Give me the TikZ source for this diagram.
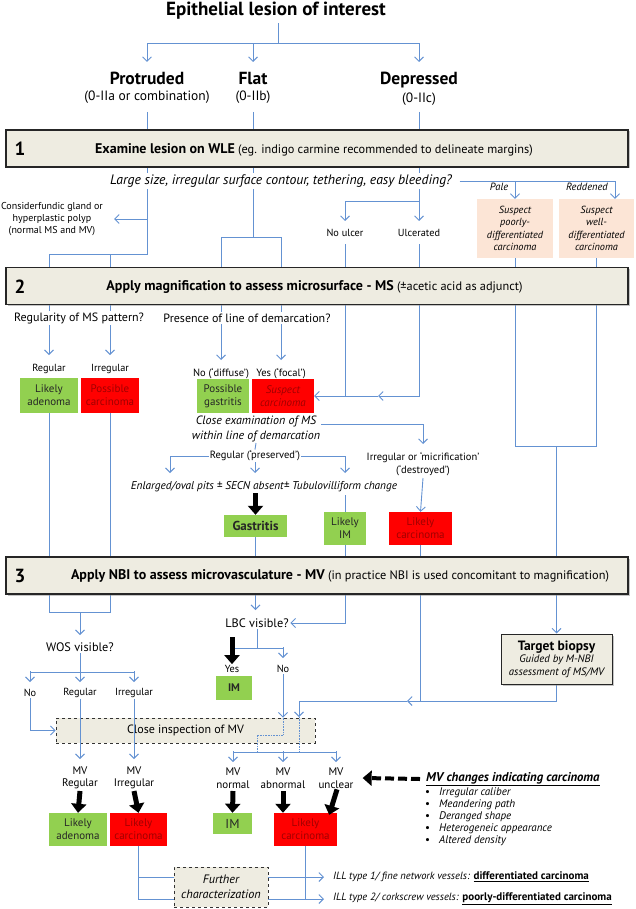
\documentclass[tikz,border=0pt]{standalone}
\usepackage{fontspec}
\setmainfont{PT Sans}
\usetikzlibrary{arrows.meta,positioning,shadows}
\pgfdeclarelayer{background}
\pgfsetlayers{background,main}
\definecolor{cline}{RGB}{100,146,210}
\definecolor{tanbg}{RGB}{238,236,225}
\definecolor{leaf}{RGB}{146,208,80}
\definecolor{alarm}{RGB}{255,0,0}
\definecolor{alarmtxt}{RGB}{160,0,0}
\definecolor{peach}{RGB}{252,229,214}
\tikzset{
	stepbox/.style={
		rectangle, draw=black!85, line width=1.1pt, fill=tanbg,
		minimum width=622pt, minimum height=37pt,
		drop shadow={shadow xshift=1.5pt, shadow yshift=-1.5pt, fill=black!45}
	},
	tile/.style={
		rectangle, align=center, inner sep=0pt,
		font=\fontsize{11}{13}\selectfont
	}
}

\begin{document}
\begin{tikzpicture}[x=1pt,y=-1pt]
		\tikzstyle{connect}=[draw=cline, line width=0.9pt]
		\tikzstyle{arr}=[connect, -{Straight Barb[length=4.5pt,width=9pt]}]
		\tikzstyle{fat}=[draw=black, line width=5pt, -{Triangle[length=9pt,width=15pt]}]
		\tikzstyle{dots}=[draw=cline, line width=0.6pt, densely dotted]
		\tikzstyle{lab}=[font=\fontsize{10.3}{12}\selectfont, align=center, inner sep=1pt]
		\tikzstyle{ask}=[font=\fontsize{12}{14}\selectfont, inner sep=1.5pt, fill=white]
		\tikzstyle{kind}=[font=\bfseries\fontsize{17.5}{19}\selectfont]
		\tikzstyle{kindsub}=[font=\fontsize{13.5}{15}\selectfont]
		\tikzstyle{num}=[font=\bfseries\fontsize{19}{21}\selectfont]
		\tikzstyle{head}=[font=\fontsize{12.3}{14}\selectfont]
		\tikzstyle{good}=[tile, fill=leaf, text=black!85]
		\tikzstyle{bad}=[tile, fill=alarm, text=alarmtxt]
		\tikzstyle{soft}=[tile, fill=peach, font=\itshape\fontsize{10.3}{12.3}\selectfont]
		\tikzstyle{dashbox}=[rectangle, draw=black!80, dashed, line width=0.8pt, fill=tanbg, align=center, inner sep=0pt]
		\useasboundingbox (0,0) rectangle (636,909);

		% lesion types
		\node[font=\bfseries\fontsize{19}{21}\selectfont] (lesion) at (276,11) {Epithelial lesion of interest};
		\node[kind] (prot) at (147,78) {Protruded};
		\node[kindsub] (protsub) at (147,97) {(0-IIa or combination)};
		\node[kind] (flat) at (253,78) {Flat};
		\node[kindsub] (flatsub) at (253,97) {(0-IIb)};
		\node[kind] (depr) at (419,80) {Depressed};
		\node[kindsub] (deprsub) at (419,99) {(0-IIc)};

		% step 1
		\node[stepbox] (box1) at (317,148.5) {};
		\node[num] (n1) at (20,149) {1};
		\node[head] (t1) at (314,150) {{\bfseries\fontsize{14}{16}\selectfont Examine lesion on WLE} (eg. indigo carmine recommended to delineate margins)};
		\node[ask, font=\itshape\fontsize{13.7}{16}\selectfont] (q1) at (281,181) {Large size, irregular surface contour, tethering, easy bleeding?};
		\node[lab, font=\fontsize{10}{12}\selectfont] (consider) at (52,219) {Considerfundic gland or\\hyperplastic polyp\\(normal MS and MV)};
		\node[lab] (noulcer) at (345,233) {No ulcer};
		\node[lab] (ulcer) at (419,233) {Ulcerated};
		\node[lab, font=\itshape\fontsize{10.5}{12}\selectfont] (pale) at (499,187) {Pale};
		\node[lab, font=\itshape\fontsize{10.5}{12}\selectfont] (redd) at (587,187) {Reddened};
		\node[soft, minimum width=76pt, minimum height=59pt] (poor) at (515,228.5) {Suspect\\poorly-\\differentiated\\carcinoma};
		\node[soft, minimum width=75pt, minimum height=59pt] (well) at (596.5,228.5) {Suspect\\well-\\differentiated\\carcinoma};

		% step 2
		\node[stepbox] (box2) at (317,286) {};
		\node[num] (n2) at (20,286.5) {2};
		\node[head] (t2) at (314.5,287) {{\bfseries\fontsize{14}{16}\selectfont Apply magnification to assess microsurface - MS} (±acetic acid as adjunct)};
		\node[ask] (regq) at (79,318) {Regularity of MS pattern?};
		\node[ask] (demq) at (247,318) {Presence of line of demarcation?};
		\node[lab] (reg1) at (49,369) {Regular};
		\node[lab] (irr1) at (110,369) {Irregular};
		\node[good, minimum width=58pt, minimum height=35pt] (adeno1) at (49,395.5) {Likely\\adenoma};
		\node[bad, minimum width=58pt, minimum height=35pt] (poss) at (110,395.5) {Possible\\carcinoma};
		\node[lab, font=\fontsize{10.5}{12}\selectfont] (nodiff) at (221,374) {No (‘diffuse’)};
		\node[lab, font=\fontsize{10.5}{12}\selectfont] (yesfoc) at (281,374) {Yes (‘focal’)};
		\node[good, minimum width=52pt, minimum height=34pt] (gastr) at (223,396) {Possible\\gastritis};
		\node[bad, minimum width=62pt, minimum height=34pt, font=\itshape\fontsize{11}{13}\selectfont] (susp) at (283,396) {Suspect\\carcinoma};
		\node[font=\itshape\fontsize{12}{14.5}\selectfont, align=center, inner sep=1pt] (closeex) at (256,429) {Close examination of MS\\within line of demarcation};
		\node[lab, fill=white, font=\fontsize{10.5}{12}\selectfont] (pres) at (255,456) {Regular (‘preserved’)};
		\node[lab, font=\fontsize{10.5}{13}\selectfont] (destr) at (423,464) {Irregular or ‘micrification’\\(‘destroyed’)};
		\node[font=\itshape\fontsize{11.3}{13}\selectfont, inner sep=1pt] (pits) at (264,487) {Enlarged/oval pits ± SECN absent± Tubulovilliform change};
		\node[good, minimum width=63pt, minimum height=22pt, font=\bfseries\fontsize{13}{15}\selectfont] (gast) at (255.5,526) {Gastritis};
		\node[good, minimum width=42pt, minimum height=33pt] (im1) at (345,528.5) {Likely\\IM};
		\node[bad, minimum width=63pt, minimum height=33pt] (carc1) at (420.5,528.5) {Likely\\carcinoma};

		% step 3
		\node[stepbox] (box3) at (317,575.5) {};
		\node[num] (n3) at (20,576) {3};
		\node[head] (t3) at (340,576) {{\bfseries\fontsize{14}{16}\selectfont Apply NBI to assess microvasculature - MV} (in practice NBI is used concomitant to magnification)};
		\node[ask, font=\fontsize{12.3}{14}\selectfont] (wos) at (80,647) {WOS visible?};
		\node[ask, font=\fontsize{12.3}{14}\selectfont] (lbc) at (257,623) {LBC visible?};
		\node[lab] (wno) at (30,693) {No};
		\node[lab] (wreg) at (80,693) {Regular};
		\node[lab] (wirr) at (134,693) {Irregular};
		\node[lab] (yes) at (232,669) {Yes};
		\node[lab] (no) at (283,669) {No};
		\node[good, minimum width=36pt, minimum height=24pt, font=\bfseries\fontsize{11}{13}\selectfont] (im2) at (234,688) {IM};
		\node[rectangle, draw=black!85, line width=1pt, fill=tanbg, minimum width=111pt, minimum height=50pt, align=center, inner sep=0pt, font=\itshape\fontsize{10.8}{12.5}\selectfont, drop shadow={shadow xshift=1.5pt, shadow yshift=-1.5pt, fill=black!45}] (biopsy) at (556.5,659) {{\upshape\bfseries\fontsize{13.5}{15}\selectfont Target biopsy}\\Guided by M-NBI\\assessment of MS/MV};
		\node[dashbox, minimum width=259pt, minimum height=25pt, font=\fontsize{12}{14}\selectfont] (closein) at (185.5,730.5) {Close inspection of MV};
		\node[lab, font=\fontsize{11}{12.5}\selectfont] (mvreg) at (80,778) {MV\\Regular};
		\node[lab, font=\fontsize{11}{12.5}\selectfont] (mvirr) at (134,778) {MV\\Irregular};
		\node[lab, font=\fontsize{11}{12.5}\selectfont] (mvnorm) at (233,778) {MV\\normal};
		\node[lab, font=\fontsize{11}{12.5}\selectfont] (mvab) at (283,778) {MV\\abnormal};
		\node[lab, font=\fontsize{11}{12.5}\selectfont] (mvunc) at (336,778) {MV\\unclear};
		\node[good, minimum width=58pt, minimum height=33pt] (adeno2) at (78,829.5) {Likely\\adenoma};
		\node[bad, minimum width=57pt, minimum height=33pt] (carc2) at (138.5,829.5) {Likely\\carcinoma};
		\node[good, minimum width=39pt, minimum height=21pt, font=\fontsize{13}{15}\selectfont] (im3) at (232.5,823.5) {IM};
		\node[bad, minimum width=63pt, minimum height=33pt] (carc3) at (305.5,829.5) {Likely\\carcinoma};
		\node[anchor=west, inner sep=0pt, font=\bfseries\itshape\fontsize{12.7}{14}\selectfont] (mvchg) at (426,779) {\underline{MV changes indicating carcinoma}};
		\node[anchor=north west, align=left, inner sep=0pt, font=\itshape\fontsize{11}{12}\selectfont] (signs) at (425,788) {{\upshape\textbullet}\hspace{9pt}Irregular caliber\\{\upshape\textbullet}\hspace{9pt}Meandering path\\{\upshape\textbullet}\hspace{9pt}Deranged shape\\{\upshape\textbullet}\hspace{9pt}Heterogeneic appearance\\{\upshape\textbullet}\hspace{9pt}Altered density};
		\node[anchor=west, inner sep=0pt, font=\itshape\fontsize{10.5}{12}\selectfont] (ill1) at (333,877) {ILL type 1/ fine network vessels: {\upshape\bfseries\fontsize{11}{12}\selectfont\underline{differentiated carcinoma}}};
		\node[anchor=west, inner sep=0pt, font=\itshape\fontsize{10.5}{12}\selectfont] (ill2) at (333,899) {ILL type 2/ corkscrew vessels: {\upshape\bfseries\fontsize{11}{12}\selectfont\underline{poorly-differentiated carcinoma}}};

		\begin{pgfonlayer}{background}
		\coordinate (fork) at (278,43);
		\draw[connect] (lesion.south -| fork) -- (fork);
		\draw[arr] (fork) -| (prot |- 0,62);
		\draw[arr] (fork) -| (flat |- 0,62);
		\draw[arr] (fork) -| (depr |- 0,62);
		% down through step 1
		\draw[connect] (protsub |- 0,112) |- (reg1 |- 0,254) -- (reg1 |- box2.north);
		\draw[connect] (irr1 |- 0,254) -- (irr1 |- box2.north);
		\draw[arr] (prot |- consider) -- ([xshift=10pt]consider.east);
		\draw[connect] (flatsub |- 0,112) -- (flat |- 0,237);
		\draw[connect] (nodiff |- box2.north) |- (yesfoc |- 0,237) -- (yesfoc |- box2.north);
		\draw[arr] (deprsub |- 0,112) -- (ulcer |- 0,221);
		\draw[arr] (depr |- 0,201) -| (noulcer |- 0,221);
		\coordinate (ulc) at (378,396);
		\draw[arr] (noulcer |- 0,244) |- (susp.east);
		\draw[arr] (ulcer |- 0,244) |- (ulc);
		\draw[connect] (ulc) -- (noulcer |- ulc);
		\coordinate (rr) at (615,181);
		\draw[arr] ([xshift=6pt]q1.east) -| (rr |- well.north);
		\draw[arr] (poor |- q1.east) -- (poor.north);
		\draw[connect] (poor.south) |- (well |- 0,446) -- (well.south);
		\draw[arr] (biopsy |- 0,446) -- (biopsy.north);
		% below step 2
		\draw[arr] (reg1 |- box2.south) -- (reg1 |- 0,355);
		\draw[arr] (irr1 |- box2.south) -- (irr1 |- 0,355);
		\draw[arr] (nodiff |- box2.south) -- (nodiff |- 0,360);
		\draw[arr] (yesfoc |- box2.south) -- (yesfoc |- 0,360);
		\draw[connect] (adeno1.south) |- (poss |- 0,612) -- (poss.south);
		\draw[arr] (wos |- 0,612) -- (wos |- 0,635);
		\draw[arr] ([yshift=5pt]closeex.east) -| (destr |- 0,444);
		\draw[connect] (closeex.south) -- (pres.north);
		\coordinate (lft) at (170,473);
		\draw[arr] (pres.center) -| (lft);
		\draw[arr] (pres.center) -| (im1 |- 0,473);
		\draw[arr] (pres.south) -- (pres |- 0,473);
		\draw[connect] (im1 |- 0,495) -- (im1.north);
		\draw[arr] (destr |- 0,478) -- (carc1.north);
		\draw[arr] (im1.south) |- (lbc.east);
		\draw[arr] (gast.south) -- (gast |- 0,610);
		\draw[connect] (carc1.south) -- (carc1 |- 0,701);
		\coordinate (mid2) at (407,701);
		\coordinate (dropb) at (299,717);
		\draw[arr] (biopsy.south) |- (mid2);
		\draw[arr] (mid2) -| (dropb);
		% below step 3
		\draw[connect] (wos.south) -- (wos |- 0,672);
		\draw[connect] (wno |- 0,672) -- (wirr |- 0,672);
		\foreach \n in {wno,wreg,wirr}
			\draw[arr] (\n |- 0,671) -- (\n |- 0,682);
		\draw[arr] (wno.south) |- (closein.west);
		\draw[connect] (lbc.south) -- (lbc |- 0,648);
		\draw[connect] (yes |- 0,648) -- (no |- 0,648);
		\draw[arr] (no |- 0,647) -- (no |- 0,658);
		\draw[arr] (no.south) -- (no |- closein.north);
		\draw[arr] (carc2.south) |- ([xshift=-9pt]ill2.west);
		\draw[arr] (carc2 |- ill1) -- ([xshift=-9pt]ill1.west);
		\draw[connect] (carc3.south) -- (carc3 |- ill2);
		\end{pgfonlayer}

		\node[dashbox, minimum width=94pt, minimum height=40pt, font=\itshape\fontsize{12.2}{15}\selectfont] (further) at (221,887) {Further\\characterization};
		\draw[arr] (wreg.south) -- (wreg |- 0,759);
		\draw[arr] (wirr.south) -- (wirr |- 0,759);
		\draw[dots] (no |- closein.north) |- (257,735) -- (257,752);
		\draw[dots] (dropb) -- (dropb |- 0,752);
		\draw[connect] (mvnorm |- 0,752) -- (mvunc |- 0,752);
		\foreach \n in {mvnorm,mvab,mvunc}
			\draw[arr] (\n |- 0,751) -- (\n |- 0,762);

		\draw[fat] (gast |- 0,493) -- (gast.north);
		\draw[fat] (yes |- 0,637) -- (yes.north);
		\draw[fat] (mvreg |- 0,791) -- (adeno2.north);
		\draw[fat] (mvirr |- 0,791) -- (carc2.north);
		\draw[fat] (mvnorm |- 0,791) -- (im3.north);
		\draw[fat] (mvab |- 0,791) -- (mvab |- carc3.north);
		\draw[fat] ([xshift=1pt]mvunc.south) -- ([xshift=-8pt,yshift=-2pt]carc3.north east);
		\draw[fat, line width=4pt, dash pattern=on 9pt off 4pt] ([xshift=-6pt]mvchg.west) -- ([xshift=8pt]mvunc.east);
\end{tikzpicture}
\end{document}
